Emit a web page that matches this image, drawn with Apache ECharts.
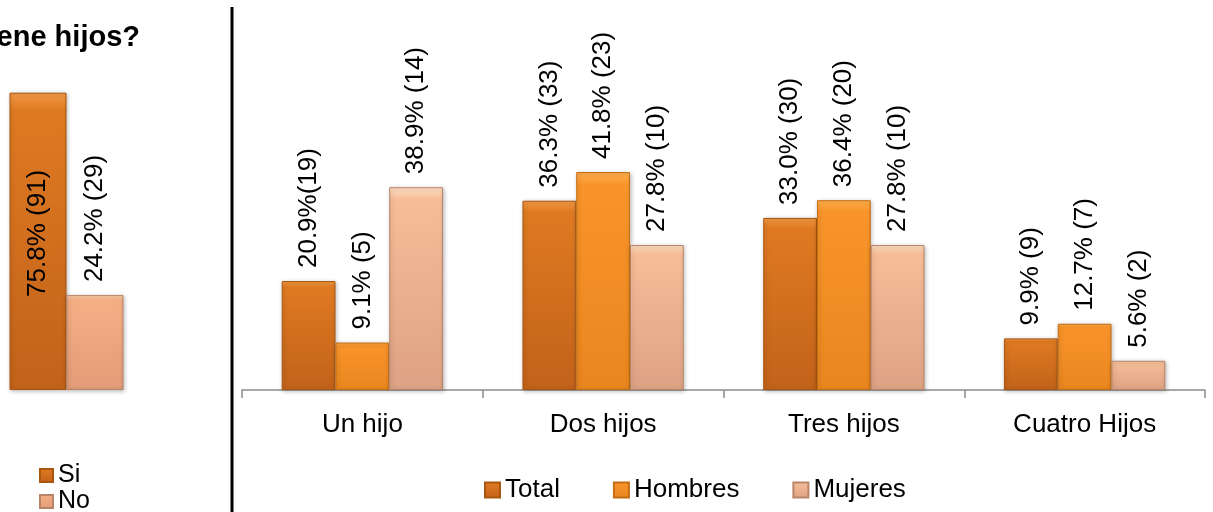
<!DOCTYPE html>
<html>
<head>
<meta charset="utf-8">
<script src="https://cdn.jsdelivr.net/npm/echarts@6/dist/echarts.min.js"></script>
<style>
  html, body { margin: 0; padding: 0; background: #fff; }
  #chart { width: 1213px; height: 512px; }
</style>
</head>
<body>
<div id="chart"></div>
<script>
// ¿Tiene hijos?  (izquierda)
var siNoNames = ['Si', 'No']
var siNoPct = [75.8, 24.2]
var siNoLabels = ['75.8% (91)', '24.2% (29)']

// Número de hijos (derecha)
var categories = ['Un hijo', 'Dos hijos', 'Tres hijos', 'Cuatro Hijos']
var seriesNames = ['Total', 'Hombres', 'Mujeres']
var totalPct = [20.9, 36.3, 33.0, 9.9]
var hombresPct = [9.1, 41.8, 36.4, 12.7]
var mujeresPct = [38.9, 27.8, 27.8, 5.6]
var totalLabels = ['20.9%(19)', '36.3% (33)', '33.0% (30)', '9.9% (9)']
var hombresLabels = ['9.1% (5)', '41.8% (23)', '36.4% (20)', '12.7% (7)']
var mujeresLabels = ['38.9% (14)', '27.8% (10)', '27.8% (10)', '5.6% (2)']

var FONT = '"Liberation Sans", Arial, sans-serif'

function bevel(light, base, dark) {
    return {
        type: 'linear', x: 0, y: 0, x2: 0, y2: 1,
        colorStops: [
            {offset: 0, color: light},
            {offset: 0.06, color: base},
            {offset: 1, color: dark}
        ]
    }
}

var cTotal = bevel('#f29a45', '#df7a22', '#c2621a')
var cHombres = bevel('#ffb04e', '#f8942a', '#e9861e')
var cMujeres = bevel('#fde0c4', '#f6bd98', '#dea284')
var cNo = bevel('#fbd0ac', '#f5ae84', '#e29c77')

function labelTop(texts) {
    return {
        show: true,
        position: 'top',
        rotate: 90,
        align: 'left',
        verticalAlign: 'middle',
        distance: 13,
        fontSize: 26,
        fontFamily: FONT,
        color: '#000',
        formatter: function (p) { return texts[p.dataIndex] }
    }
}

function barStyle(fill, border) {
    return {
        color: fill,
        borderColor: border,
        borderWidth: 1,
        shadowBlur: 4,
        shadowColor: 'rgba(0,0,0,0.25)',
        shadowOffsetX: 1,
        shadowOffsetY: 1
    }
}

var myChart = echarts.init(document.getElementById('chart'))

myChart.setOption({
    animation: false,
    backgroundColor: '#fff',
    textStyle: {fontFamily: FONT},
    graphic: [
        {
            type: 'text',
            x: 140, y: 38,
            style: {
                text: '¿Tiene hijos?',
                font: 'bold 29px ' + FONT,
                fill: '#000',
                textAlign: 'right',
                textVerticalAlign: 'middle'
            }
        },
        {
            type: 'line',
            shape: {x1: 232, y1: 7, x2: 232, y2: 512},
            style: {stroke: '#000', lineWidth: 3}
        }
    ],
    legend: [
        {
            data: siNoNames,
            orient: 'vertical',
            left: 39,
            top: 463,
            height: 60,
            padding: 0,
            itemGap: 1,
            itemWidth: 13,
            itemHeight: 13,
            icon: 'rect',
            textStyle: {fontSize: 25, lineHeight: 24, color: '#000', fontFamily: FONT}
        },
        {
            data: seriesNames,
            orient: 'horizontal',
            left: 484,
            top: 477,
            padding: 0,
            itemGap: 53,
            itemWidth: 15,
            itemHeight: 15,
            icon: 'rect',
            textStyle: {fontSize: 26, color: '#000', fontFamily: FONT}
        }
    ],
    grid: [
        {left: 0, width: 133, top: 37, height: 353},
        {left: 242, width: 963, top: 25, height: 365}
    ],
    xAxis: [
        {
            gridIndex: 0,
            type: 'category',
            data: ['¿Tiene hijos?'],
            axisLine: {show: false},
            axisTick: {show: false},
            axisLabel: {show: false}
        },
        {
            gridIndex: 1,
            type: 'category',
            data: categories,
            axisLine: {lineStyle: {color: '#8c8c8c', width: 1.5}},
            axisTick: {show: true, length: 8, lineStyle: {color: '#8c8c8c', width: 1.5}},
            axisLabel: {fontSize: 26, color: '#000', fontFamily: FONT, margin: 22}
        }
    ],
    yAxis: [
        {gridIndex: 0, type: 'value', min: 0, max: 90, show: false},
        {gridIndex: 1, type: 'value', min: 0, max: 70, show: false}
    ],
    series: [
        {
            name: 'Si',
            type: 'bar',
            xAxisIndex: 0, yAxisIndex: 0,
            barWidth: 57,
            barGap: '0%',
            data: [siNoPct[0]],
            itemStyle: barStyle(cTotal, '#a9560f'),
            label: {
                show: true,
                position: 'inside',
                rotate: 90,
                offset: [8, 0],
                fontSize: 26,
                fontFamily: FONT,
                color: '#000',
                formatter: function () { return siNoLabels[0] }
            }
        },
        {
            name: 'No',
            type: 'bar',
            xAxisIndex: 0, yAxisIndex: 0,
            barWidth: 57,
            barGap: '0%',
            data: [siNoPct[1]],
            itemStyle: barStyle(cNo, '#b98569'),
            label: labelTop([siNoLabels[1]])
        },
        {
            name: 'Total',
            type: 'bar',
            xAxisIndex: 1, yAxisIndex: 1,
            barGap: '0%',
            barCategoryGap: '33%',
            data: totalPct,
            itemStyle: barStyle(cTotal, '#a9560f'),
            label: labelTop(totalLabels)
        },
        {
            name: 'Hombres',
            type: 'bar',
            xAxisIndex: 1, yAxisIndex: 1,
            barGap: '0%',
            barCategoryGap: '33%',
            data: hombresPct,
            itemStyle: barStyle(cHombres, '#c46d12'),
            label: labelTop(hombresLabels)
        },
        {
            name: 'Mujeres',
            type: 'bar',
            xAxisIndex: 1, yAxisIndex: 1,
            barGap: '0%',
            barCategoryGap: '33%',
            data: mujeresPct,
            itemStyle: barStyle(cMujeres, '#b98569'),
            label: labelTop(mujeresLabels)
        }
    ]
})
</script>
</body>
</html>
